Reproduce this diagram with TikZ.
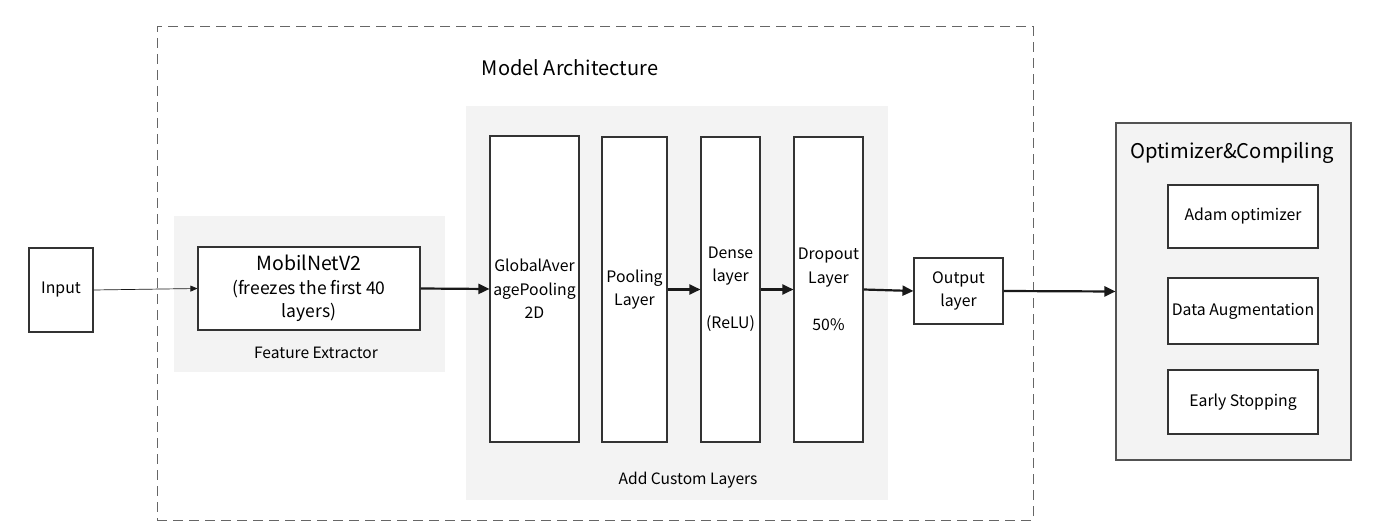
\documentclass[tikz,border=0pt]{standalone}
\usepackage{fontspec}
\setmainfont{Noto Sans CJK SC}
\usepackage{xcolor}
\usetikzlibrary{positioning,arrows.meta}
\definecolor{panelgray}{HTML}{F3F3F3}
\definecolor{linegray}{HTML}{333333}
\begin{document}
\begin{tikzpicture}[x=1pt, y=-1pt,
  block/.style={
    rectangle, draw=linegray, line width=1.1pt, fill=white, inner sep=0pt,
    align=center, font=\fontsize{15.8}{23.5}\selectfont
  },
  panel/.style={
    rectangle, fill=panelgray, inner sep=0pt
  },
  caption/.style={
    font=\fontsize{15.6}{18}\selectfont, inner sep=0pt
  },
  title/.style={
    font=\fontsize{20}{22}\selectfont, inner sep=0pt
  },
  edge/.style={
    -{Triangle[length=11pt,width=10pt]}, line width=2.2pt, color=black!90
  },
  thinedge/.style={
    -{Triangle[length=7pt,width=6pt]}, line width=0.7pt, color=black!90
  }
]
\useasboundingbox (0,0) rectangle (1381,529);

% Frame
\node[rectangle, draw=black!60, line width=1pt, dash pattern=on 10pt off 6pt,
  minimum width=876pt, minimum height=493pt] (frame) at (595,273.5) {};
\node[title] (modeltitle) at (570,68) {Model Architecture};

% Panels
\node[panel, minimum width=271pt, minimum height=156pt] (featpanel) at (309.5,294) {};
\node[panel, minimum width=422pt, minimum height=394pt] (custompanel) at (677,303) {};
\node[panel, draw=linegray!85, line width=1.1pt, minimum width=235pt, minimum height=337pt] (optpanel) at (1233.5,291.5) {};

% Nodes
\node[block, minimum width=64pt, minimum height=84pt] (input) at (61,290) {Input};
\node[block, minimum width=222pt, minimum height=83pt, font=\fontsize{17.5}{23.5}\selectfont] (mobilnet) at (309,288.5) {{\fontsize{19.5}{23.5}\selectfont MobilNetV2}\\(freezes the first 40\\layers)};
\node[caption] (featlabel) at (316,353) {Feature Extractor};

\node[block, minimum width=89pt, minimum height=306pt] (gap) at (534.5,289) {GlobalAver\\agePooling\\2D};
\node[block, minimum width=65pt, minimum height=305pt] (pooling) at (634.5,289.5) {Pooling\\Layer};
\node[block, minimum width=59pt, minimum height=305pt] (dense) at (730.5,289.5) {Dense\\layer\\[23.5pt](ReLU)};
\node[block, minimum width=69pt, minimum height=305pt] (dropout) at (828.5,289.5) {Dropout\\Layer\\[23.5pt]50\%};
\node[caption] (customlabel) at (688,480) {Add Custom Layers};

\node[block, minimum width=89pt, minimum height=66pt] (output) at (958.5,291) {Output\\layer};

\node[title, font=\fontsize{20.2}{22}\selectfont] (opttitle) at (1232,153) {Optimizer\&Compiling};
\node[block, minimum width=150pt, minimum height=63pt] (adam) at (1243,216.5) {Adam optimizer};
\node[block, minimum width=150pt, minimum height=66pt] (augment) at (1243,311) {Data Augmentation};
\node[block, minimum width=150pt, minimum height=64pt] (early) at (1243,402) {Early Stopping};

% Edges
\draw[thinedge] (input.east) -- (mobilnet.west);
\draw[edge] (mobilnet.east) -- (gap.west);
\draw[edge] (pooling.east) -- (dense.west);
\draw[edge] (dense.east) -- (dropout.west);
\draw[edge] (dropout.east) -- (output.west);
\draw[edge] (output.east) -- (optpanel.west);

\end{tikzpicture}
\end{document}
